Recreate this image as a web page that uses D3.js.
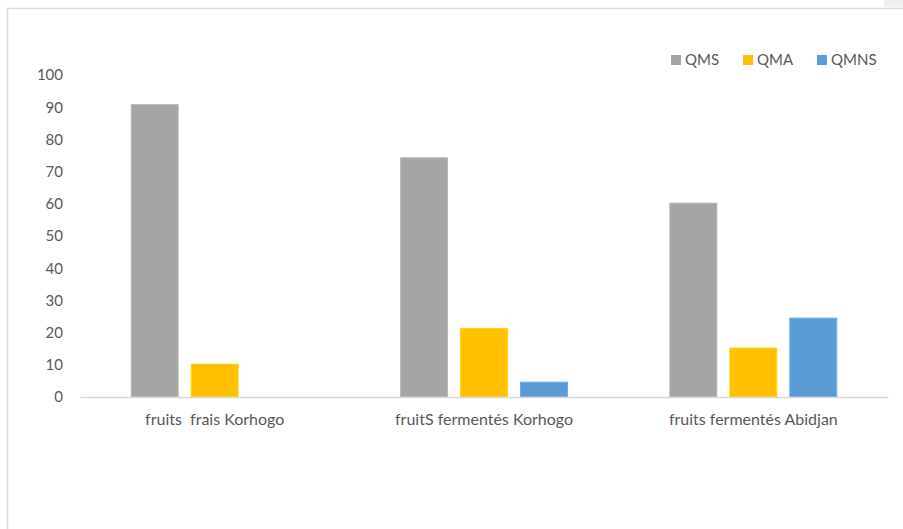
<!DOCTYPE html>
<html>
<head>
<meta charset="utf-8">
<script src="https://cdn.jsdelivr.net/npm/d3@7"></script>
<style>
  body { margin: 0; background: #fff; }
  svg { display: block; }
</style>
</head>
<body>
<svg width="903" height="529"></svg>
<script>
// data
const categories = ['fruits  frais Korhogo', 'fruitS fermentés Korhogo', 'fruits fermentés Abidjan']
const series = ['QMS', 'QMA', 'QMNS']
const QMS = [90.8, 74.3, 60.2]
const QMA = [10.2, 21.3, 15.2]
const QMNS = [0, 4.6, 24.5]
const yTicks = [0, 10, 20, 30, 40, 50, 60, 70, 80, 90, 100]

const values = {QMS: QMS, QMA: QMA, QMNS: QMNS}
const colors = {QMS: '#a5a5a5', QMA: '#ffc000', QMNS: '#5b9bd5'}
const font = 'Lato, "Open Sans", sans-serif'
const textColor = '#595959'

const svg = d3.select('svg')

// outer frame of the chart area
svg.append('rect').attr('x', 884).attr('y', 0).attr('width', 19).attr('height', 7).attr('fill', '#f0f0f0')
svg.append('path')
    .attr('d', 'M7.5,529V8.5H903')
    .attr('fill', 'none')
    .attr('stroke', '#d9d9d9')
    .attr('stroke-width', 1.5)

const margin = {left: 80, right: 888, top: 75, bottom: 397}

let x0 = d3.scaleBand()
    .domain(categories)
    .range([margin.left, margin.right])
    .paddingInner(0.332)
    .paddingOuter(0.166)

let x1 = d3.scaleBand()
    .domain(series)
    .range([0, x0.bandwidth()])
    .paddingInner(0.217)
    .paddingOuter(0.1085)

let y = d3.scaleLinear()
    .domain([0, 100])
    .range([margin.bottom, margin.top])

// y axis labels, no line
let yAxis = d3.axisLeft(y).tickValues(yTicks).tickSize(0).tickPadding(0)
svg.append('g')
    .attr('transform', 'translate(63,0)')
    .call(yAxis)
    .call(g => g.select('.domain').remove())
    .call(g => g.selectAll('text')
        .attr('fill', textColor)
        .style('font', '15px ' + font))

// bars
const group = svg.append('g').selectAll('g')
    .data(categories)
    .join('g')
      .attr('transform', d => `translate(${x0(d)},0)`)

group.selectAll('rect')
    .data((d, i) => series.map(s => ({key: s, value: values[s][i]})))
    .join('rect')
      .filter(d => d.value > 0)
      .attr('x', d => x1(d.key))
      .attr('y', d => y(d.value))
      .attr('width', x1.bandwidth())
      .attr('height', d => y(0) - y(d.value))
      .attr('fill', d => colors[d.key])
      .attr('stroke', d => d3.color(colors[d.key]).brighter(0.3))
      .attr('stroke-width', 1)

// category axis
let xAxis = d3.axisBottom(x0).tickSize(0).tickPadding(17)
svg.append('g')
    .attr('transform', `translate(0,${y(0)})`)
    .call(xAxis)
    .call(g => g.select('.domain').attr('stroke', '#d9d9d9').attr('stroke-width', 1.5))
    .call(g => g.selectAll('text')
        .attr('fill', textColor)
        .style('white-space', 'pre')
        .style('font', '16px ' + font))

// legend
const legendX = [671, 743, 817]
const legend = svg.append('g').selectAll('g')
    .data(series)
    .join('g')
      .attr('transform', (d, i) => `translate(${legendX[i]},55)`)

legend.append('rect')
    .attr('width', 10)
    .attr('height', 10)
    .attr('fill', d => colors[d])

legend.append('text')
    .attr('x', 14)
    .attr('y', 5)
    .attr('dy', '0.35em')
    .attr('fill', textColor)
    .style('font', '15px ' + font)
    .text(d => d)
</script>
</body>
</html>
